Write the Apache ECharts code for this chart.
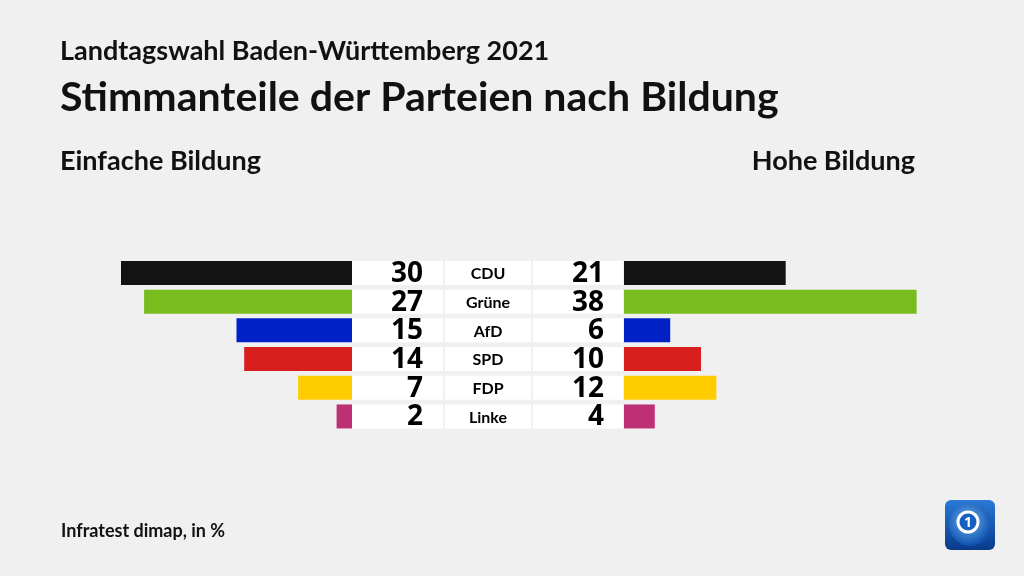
<!DOCTYPE html>
<html><head><meta charset="utf-8">
<script src="https://cdn.jsdelivr.net/npm/echarts@6/dist/echarts.min.js"></script>
<style>html,body{margin:0;padding:0;background:#f0f0f0}#c{width:1024px;height:576px}</style>
</head><body><div id="c"></div>
<script>
const parties = ['CDU','Grüne','AfD','SPD','FDP','Linke'];
const einfache = [30,27,15,14,7,2];
const hohe = [21,38,6,10,12,4];
const colors = ['#131313','#78bc1e','#0021c6','#d71f1e','#ffcc00','#be3075'];
const FONT = '"Open Sans", "Noto Sans", sans-serif';
const TFONT = 'Lato, "Open Sans", sans-serif';

const chart = echarts.init(document.getElementById('c'));
const catAxis = (gi) => ({type:'category', gridIndex:gi, data:parties, inverse:true, show:false});
const option = {
  backgroundColor:'#f0f0f0',
  animation:false,
  title:[
    {text:'Landtagswahl Baden-Württemberg 2021', left:55, top:33, textStyle:{fontFamily:TFONT, fontSize:27, fontWeight:'bold', color:'#111'}},
    {text:'Stimmanteile der Parteien nach Bildung', left:55, top:72, textStyle:{fontFamily:TFONT, fontSize:41, fontWeight:'bold', color:'#111'}},
    {text:'Einfache Bildung', left:55, top:143, textStyle:{fontFamily:TFONT, fontSize:27, fontWeight:'bold', color:'#111'}},
    {text:'Hohe Bildung', right:104, top:143, textStyle:{fontFamily:TFONT, fontSize:27, fontWeight:'bold', color:'#111'}},
    {text:'Infratest dimap, in %', left:56, top:517, textStyle:{fontFamily:TFONT, fontSize:18, fontWeight:'bold', color:'#111'}}
  ],
  grid:[
    {left:44, width:308, top:258.6, height:172.2},
    {left:352, width:272, top:258.6, height:172.2},
    {left:624, width:308, top:258.6, height:172.2}
  ],
  xAxis:[
    {type:'value', gridIndex:0, min:0, max:40, inverse:true, show:false},
    {type:'value', gridIndex:1, min:0, max:272, show:false},
    {type:'value', gridIndex:2, min:0, max:40, show:false}
  ],
  yAxis:[catAxis(0), catAxis(1), catAxis(2)],
  series:[
    {type:'bar', xAxisIndex:0, yAxisIndex:0, barWidth:24,
     data:einfache.map((v,i)=>({value:v, itemStyle:{color:colors[i]}}))},
    {type:'bar', xAxisIndex:2, yAxisIndex:2, barWidth:24,
     data:hohe.map((v,i)=>({value:v, itemStyle:{color:colors[i]}}))},
    {type:'custom', xAxisIndex:1, yAxisIndex:1,
     data:parties.map((p,i)=>[0,i]),
     renderItem:function(params, api){
       const i = params.dataIndex;
       const pt = api.coord([0, api.value(1)]);
       const x0 = pt[0], yc = pt[1], h = 24, y0 = yc - h/2;
       const numFont = 'bold 28px ' + FONT;
       return {type:'group', children:[
         {type:'rect', shape:{x:x0, y:y0, width:91, height:h}, style:{fill:'#fff'}},
         {type:'rect', shape:{x:x0+93, y:y0, width:86, height:h}, style:{fill:'#fff'}},
         {type:'rect', shape:{x:x0+181, y:y0, width:90, height:h}, style:{fill:'#fff'}},
         {type:'text', style:{text:String(einfache[i]), x:x0+71, y:yc+1, align:'right', verticalAlign:'middle', font:numFont, fill:'#000'}},
         {type:'text', style:{text:parties[i], x:x0+136, y:yc+1, align:'center', verticalAlign:'middle', font:'bold 16px '+TFONT, fill:'#000'}},
         {type:'text', style:{text:String(hohe[i]), x:x0+252, y:yc+1, align:'right', verticalAlign:'middle', font:numFont, fill:'#000'}}
       ]};
     }}
  ],
  graphic:[
    {type:'rect', shape:{x:945, y:500, width:50, height:50, r:6},
     style:{fill:{type:'linear', x:0, y:0, x2:0, y2:1, colorStops:[{offset:0,color:'#2a7ad6'},{offset:1,color:'#0a3a8a'}]}}},
    {type:'circle', shape:{cx:970, cy:525, r:21},
     style:{fill:{type:'radial', x:0.45, y:0.4, r:0.6, colorStops:[{offset:0,color:'#6ab4f0'},{offset:1,color:'#0d4fae'}]}}},
    {type:'circle', shape:{cx:968, cy:522, r:10}, style:{fill:'#1760c0', stroke:'#fff', lineWidth:3}},
    {type:'text', style:{text:'1', x:968, y:523, align:'center', verticalAlign:'middle', font:'bold 14px '+FONT, fill:'#fff'}}
  ]
};
chart.setOption(option);
</script></body></html>
